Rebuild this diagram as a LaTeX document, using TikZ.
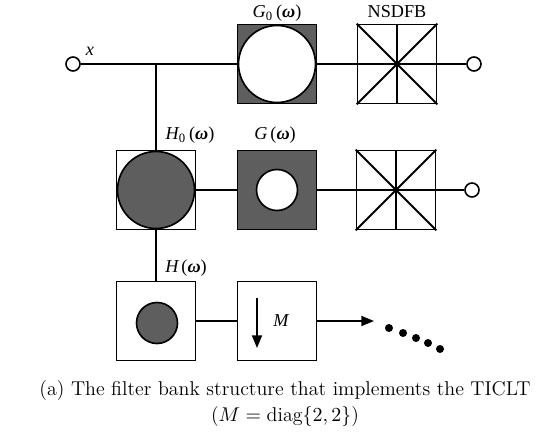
\documentclass[tikz,border=0pt]{standalone}
\usepackage{fontspec}
\usetikzlibrary{arrows.meta}
\newfontfamily\lblfont{Liberation Serif}
\definecolor{fillgray}{HTML}{5E5E5E}
\begin{document}
\begin{tikzpicture}[x=0.55pt,y=-0.55pt,
  wire/.style={line width=1.05pt},
  blk/.style={draw,line width=0.9pt,rectangle,minimum size=79*0.55pt,inner sep=0pt},
  darkblk/.style={blk,fill=fillgray},
  bigdisc/.style={draw,line width=0.9pt,circle,minimum size=77*0.55pt,inner sep=0pt},
  smalldisc/.style={draw,line width=0.9pt,circle,minimum size=41*0.55pt,inner sep=0pt},
  port/.style={draw,line width=0.9pt,circle,fill=white,minimum size=14*0.55pt,inner sep=0pt},
  dot/.style={circle,fill=black,minimum size=8*0.55pt,inner sep=0pt},
  lbl/.style={font=\lblfont, inner sep=0pt},
  captext/.style={font=\fontsize{11}{13}\selectfont, inner sep=0pt},
  tip/.style={-{Triangle[length=7pt,width=5.5pt]}}]
\useasboundingbox (0,0) rectangle (540,434);

% first row: G_0 and the directional filter bank
\node[port] (in) at (73,64) {};
\node[darkblk] (g0) at (277,64) {};
\node[bigdisc,fill=white] (g0c) at (277,64) {};
\node[blk] (nb1) at (397,64) {};
\node[port] (out1) at (474,64) {};

% second row: H_0, G and the directional filter bank
\node[blk] (h0) at (156,190) {};
\node[bigdisc,fill=fillgray] (h0c) at (156,190) {};
\node[darkblk] (g) at (277,190) {};
\node[smalldisc,fill=white] (gc) at (277,190) {};
\node[blk] (nb2) at (396,190) {};
\node[port] (out2) at (472,190) {};

% third row: H and the downsampler
\node[blk] (h) at (156,321) {};
\node[smalldisc,fill=fillgray] (hc) at (157,323) {};
\node[blk] (m) at (277,321) {};
\coordinate (mtop) at (257,298);
\coordinate (mbot) at (257,348);
\coordinate (arrEnd) at (374,321);
\coordinate (br) at (156,64);

% connectors
\draw[wire] (in.east) -- (g0.west);
\draw[wire] (br) -- (h0.north);
\draw[wire] (g0.east) -- (out1.west);
\draw[wire] (h0.east) -- (g.west);
\draw[wire] (g.east) -- (out2.west);
\draw[wire] (h0.south) -- (h.north);
\draw[wire] (h.east) -- (m.west);
\draw[wire,tip] (m.east) -- (arrEnd);
\draw[wire,tip] (mtop) -- (mbot);

% directional filter bank symbols
\foreach \b in {nb1,nb2}{
  \draw[wire] (\b.north west) -- (\b.south east);
  \draw[wire] (\b.south west) -- (\b.north east);
  \draw[wire] (\b.north) -- (\b.south);
}

% trailing dots
\node[dot] (d1) at (389,328) {};
\node[dot] (d2) at (403,333) {};
\node[dot] (d3) at (416,338) {};
\node[dot] (d4) at (428,343) {};
\node[dot] (d5) at (440,349) {};

% labels
\node[lbl] (lx) at (90,51) {\itshape x};
\node[lbl] (lg0) at (277,13) {\itshape G\textsubscript{\upshape 0}\,\upshape(\textbf{\textit{ω}})};
\node[lbl] (lnsdfb) at (397,12) {NSDFB};
\node[lbl] (lh0) at (190,135) {\itshape H\textsubscript{\upshape 0}\,\upshape(\textbf{\textit{ω}})};
\node[lbl] (lg) at (275,135) {\itshape G\,\upshape(\textbf{\textit{ω}})};
\node[lbl] (lh) at (186,268) {\itshape H\,\upshape(\textbf{\textit{ω}})};
\node[lbl] (lm) at (281,321) {\itshape M};

% caption
\node[captext] (cap1) at (285,391) {(a) The filter bank structure that implements the TICLT};
\node[captext] (cap2) at (285,417) {($M=\mathrm{diag}\{2,2\}$)};
\end{tikzpicture}
\end{document}
